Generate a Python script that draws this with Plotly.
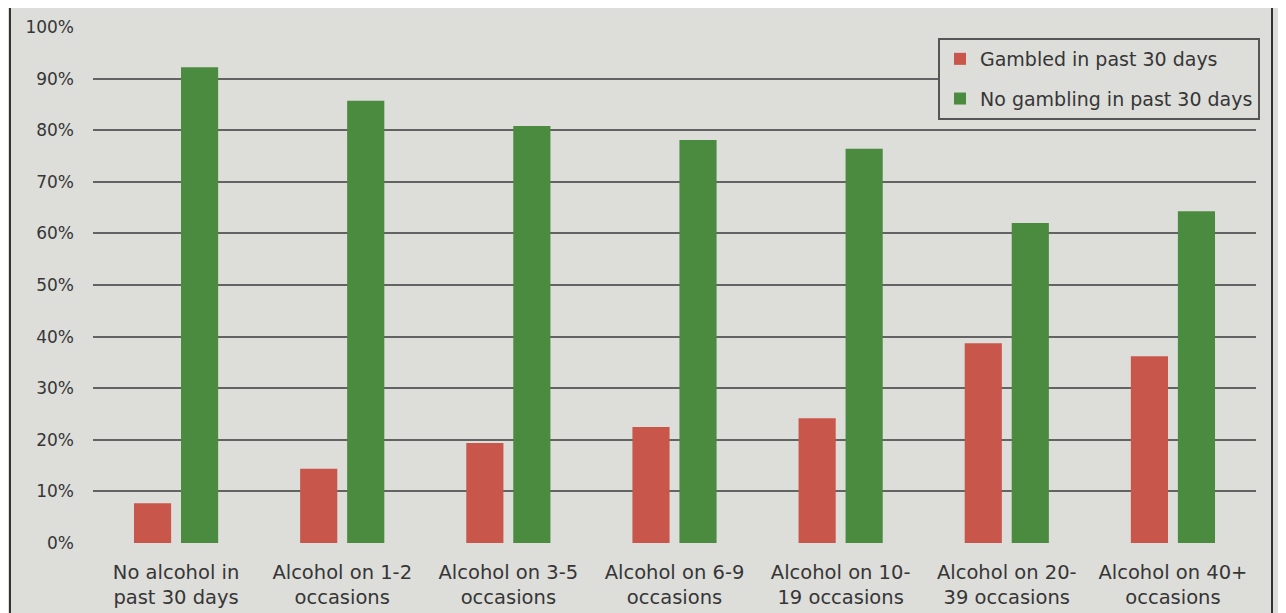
import plotly.graph_objects as go

categories = ["No alcohol in<br>past 30 days", "Alcohol on 1-2<br>occasions", "Alcohol on 3-5<br>occasions",
              "Alcohol on 6-9<br>occasions", "Alcohol on 10-<br>19 occasions", "Alcohol on 20-<br>39 occasions",
              "Alcohol on 40+<br>occasions"]
gambled = [7.7, 14.4, 19.4, 22.5, 24.2, 38.7, 36.2]
no_gambling = [92.2, 85.7, 80.8, 78.1, 76.4, 62.0, 64.3]
tick_vals = [0, 10, 20, 30, 40, 50, 60, 70, 80, 90, 100]
tick_text = [f"{v}%" for v in tick_vals]

BG = "#dddddA"
TXT = "#363636"
FONT = "DejaVu Sans"

fig = go.Figure()
fig.add_trace(go.Bar(name="Gambled in past 30 days", x=categories, y=gambled, legendgroup="a",
                     marker=dict(color="#c9564b", line=dict(width=0))))
fig.add_trace(go.Bar(name="No gambling in past 30 days", x=categories, y=no_gambling, legendgroup="b",
                     marker=dict(color="#4b8b3f", line=dict(width=0))))

# page has an 8px body margin, so the figure is shifted by 8px
OFF = 8
W, H = 1286 - OFF, 613 - OFF
L, R, T, B = 93 - OFF, 30, 27 - OFF, 70
pw = W - L - R
ph = H - T - B

fig.update_layout(
    width=W, height=H,
    margin=dict(l=L, r=R, t=T, b=B, pad=0, autoexpand=False),
    paper_bgcolor=BG, plot_bgcolor=BG,
    barmode="group", bargap=0.434, bargroupgap=0.21,
    font=dict(family=FONT, color=TXT, size=16),
    xaxis=dict(showgrid=False, showline=False, ticks="", ticklabelstandoff=15, automargin=False,
               tickfont=dict(size=19.5, color=TXT)),
    yaxis=dict(range=[0, 100], tickvals=tick_vals, ticktext=tick_text, showgrid=True, automargin=False,
               gridcolor="#636363", gridwidth=2, zeroline=False, showline=False,
               ticks="", ticklabelstandoff=18, tickfont=dict(size=17, color=TXT)),
    legend=dict(x=(938 - OFF - L) / pw, y=(543 - 38) / ph, xanchor="left", yanchor="top",
                bgcolor=BG, bordercolor="#555555", borderwidth=2,
                font=dict(size=19, color=TXT), tracegroupgap=12,
                itemwidth=30),
    showlegend=True,
)

# frame lines of the newspaper panel
for px in (10, 1272):
    xp = (px - OFF - L) / pw
    fig.add_shape(type="line", xref="paper", yref="paper",
                  x0=xp, x1=xp, y0=-B / ph, y1=1 + T / ph,
                  line=dict(color="#333333", width=2))

fig.write_html("out.html")
